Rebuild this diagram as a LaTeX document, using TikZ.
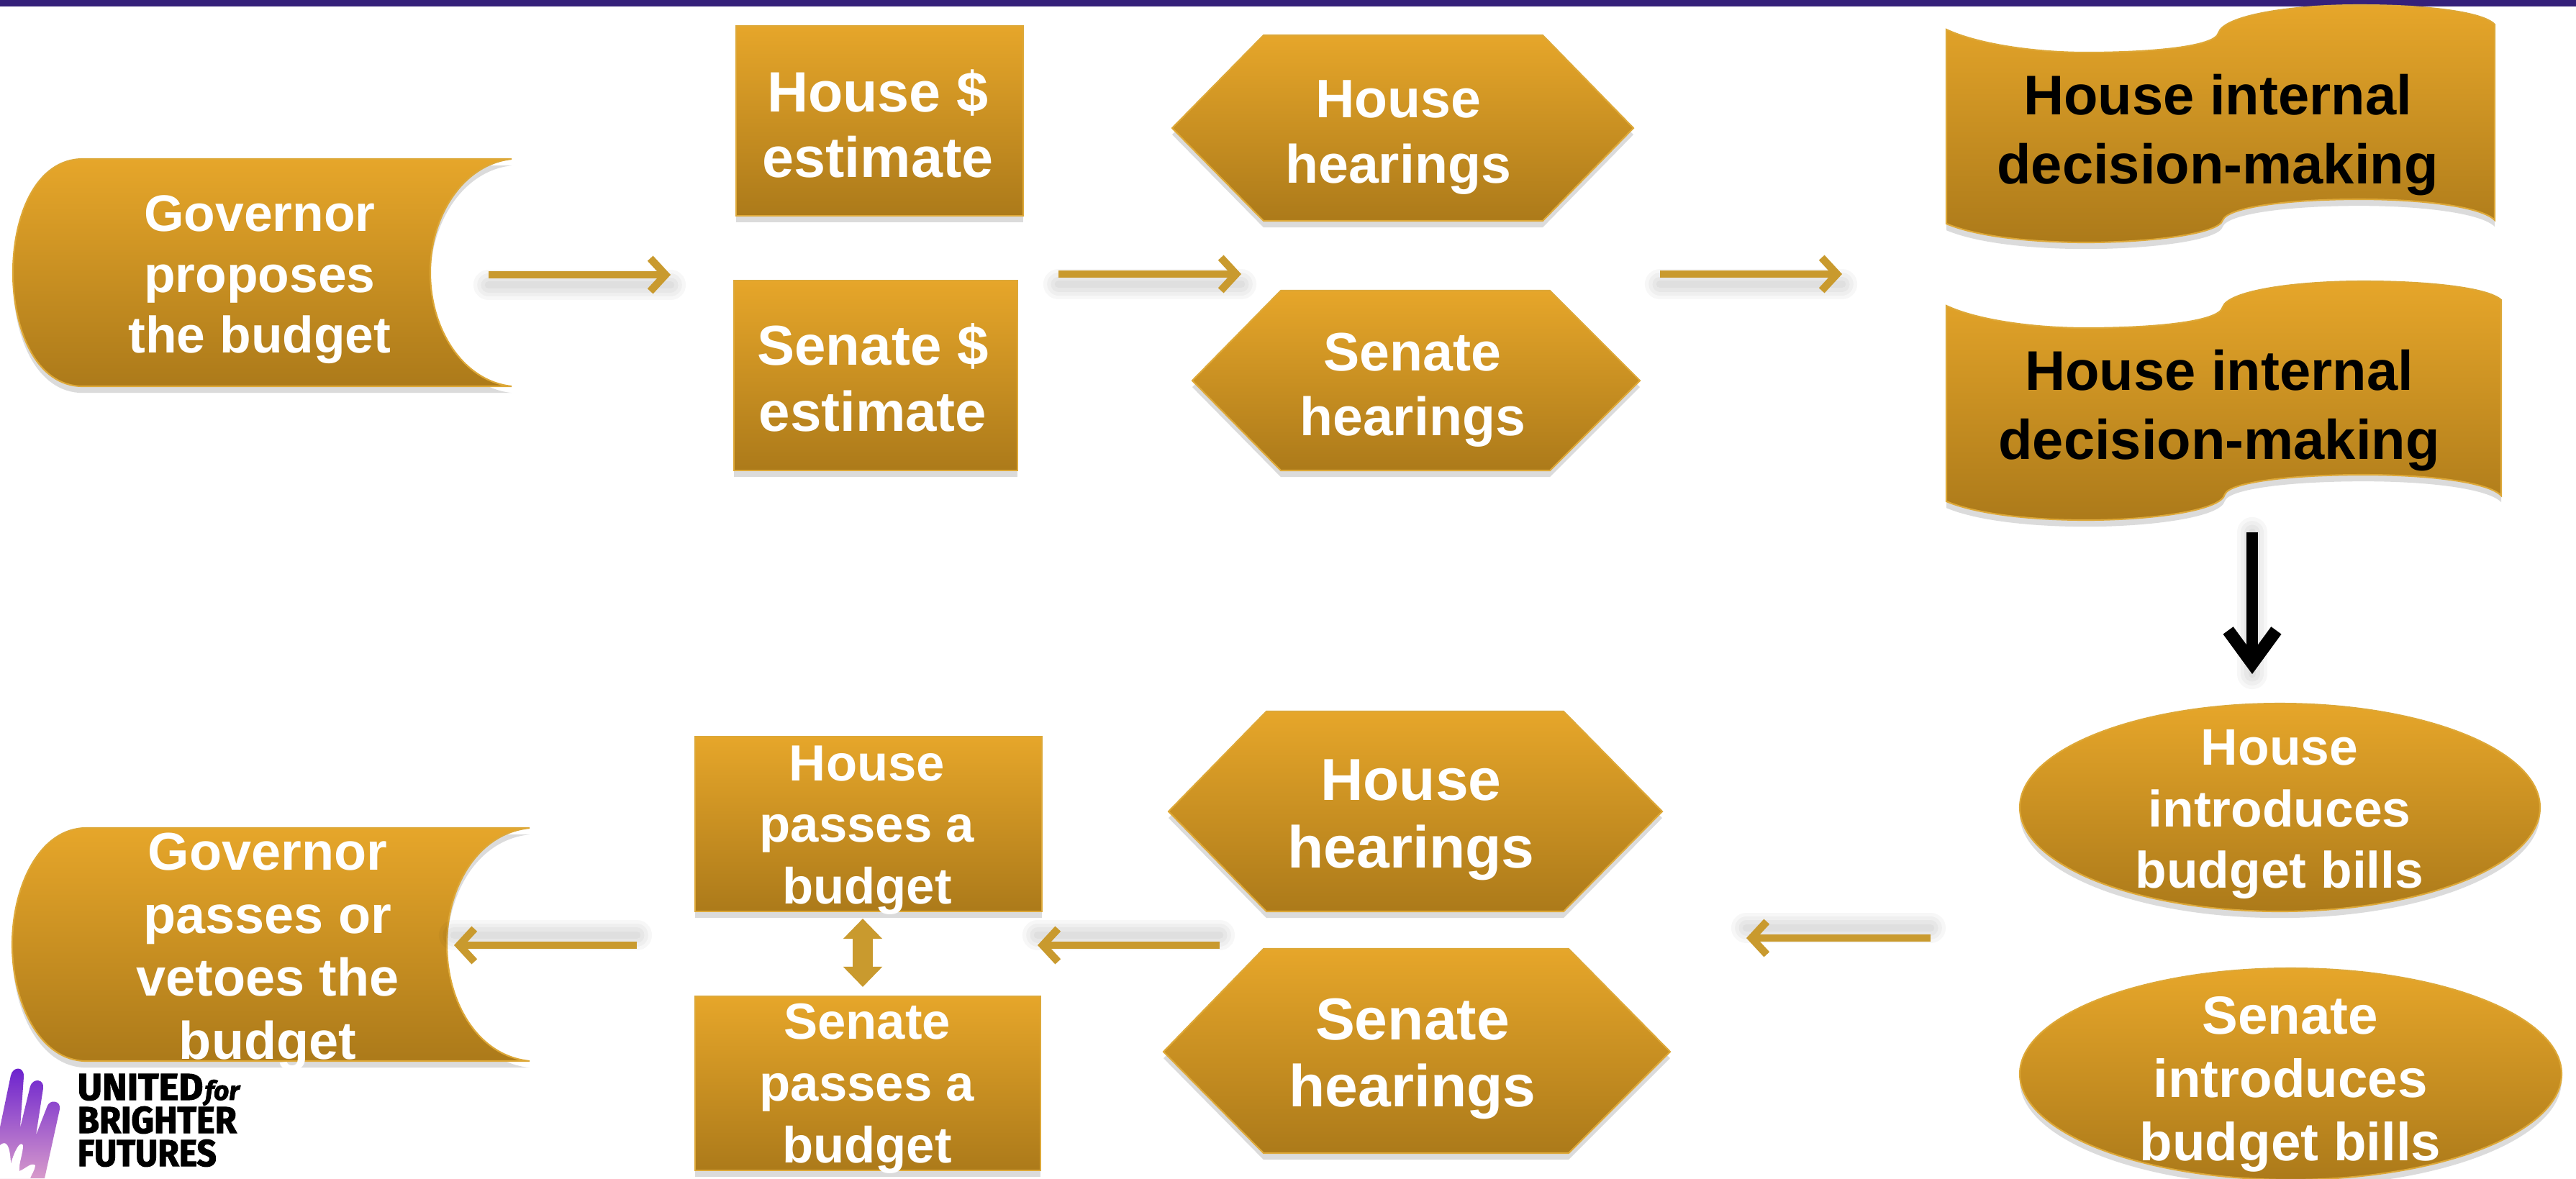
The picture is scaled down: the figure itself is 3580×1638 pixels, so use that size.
\documentclass[tikz,border=0pt]{standalone}
\usepackage{fontspec}
\setmainfont{Liberation Sans}
\newfontfamily\logofont[FakeBold=2.2]{Fira Sans}
\usetikzlibrary{shadows,arrows.meta}
\definecolor{goldtop}{HTML}{E6A62A}
\definecolor{goldbot}{HTML}{AC7A1A}
\definecolor{goldedge}{HTML}{DDA838}
\definecolor{goldline}{HTML}{C99A2E}
\definecolor{barpurple}{HTML}{35207A}
\definecolor{handtop}{HTML}{6A20CE}
\definecolor{handbot}{HTML}{D79ACB}
\tikzset{
  goldshape/.style={top color=goldtop,bottom color=goldbot,draw=goldedge,line width=0.6pt,
    drop shadow={shadow xshift=0pt,shadow yshift=-2.6pt,fill=black!40,opacity=.35}},
  lbl/.style={inner sep=0pt,align=center,text=white},
  goldarrow/.style={draw=goldline,line width=2.6pt,-{Straight Barb[length=6pt,width=13pt,line width=3pt]}},
  softline/.style={draw=black,opacity=.03,line cap=round},
  logotext/.style={inner sep=0pt,anchor=base west,text=black}
}
\newcommand{\lblnode}[5]{\node[lbl,font=\fontsize{#3}{#4}\selectfont\bfseries] (#1) at (#2) {#5};}
\newcommand{\softshadow}[3]{%
  \foreach \w in {3,6,9,12}{\draw[softline,line width=\w pt,transform canvas={yshift=#3}] (#1) -- (#2);}}
\begin{document}
\begin{tikzpicture}[x=0.01cm,y=-0.01cm]
\useasboundingbox (0,0) rectangle (3580,1638);
\clip (0,0) rectangle (3580,1638);
\fill[white] (0,0) rectangle (3580,1638);
\fill[barpurple] (0,0) rectangle (3580,9);

% Governor proposes
\path[goldshape] (711,221) -- (115,221) .. controls (50,221) and (18,300) .. (18,379)
  .. controls (18,458) and (50,537) .. (115,537) -- (711,537)
  .. controls (645,530) and (598,460) .. (598,379) .. controls (598,298) and (645,228) .. (711,221) -- cycle;
% estimates
\path[goldshape] (1023,36) rectangle (1422,300);
\path[goldshape] (1020,390) rectangle (1414,654);
% hearings top
\path[goldshape] (1756,49) -- (2144,49) -- (2270,178) -- (2144,307) -- (1756,307) -- (1629,178) -- cycle;
\path[goldshape] (1780,404) -- (2154,404) -- (2279,529) -- (2154,654) -- (1780,654) -- (1657,529) -- cycle;
% waves
\path[goldshape] (2705,41) .. controls (2750,62) and (2830,73) .. (2899,73)
  .. controls (2990,73) and (3078,65) .. (3083,46)
  .. controls (3090,22) and (3180,7) .. (3279,7)
  .. controls (3370,7) and (3450,16) .. (3467,34)
  -- (3467,306) .. controls (3450,288) and (3370,277) .. (3279,277)
  .. controls (3180,277) and (3096,288) .. (3089,306)
  .. controls (3084,325) and (2990,337) .. (2899,337)
  .. controls (2830,337) and (2750,330) .. (2705,311) -- cycle;
\path[goldshape] (2705,425) .. controls (2750,446) and (2830,456) .. (2899,456)
  .. controls (2990,456) and (3084,448) .. (3089,427)
  .. controls (3096,405) and (3185,391) .. (3285,391)
  .. controls (3375,391) and (3458,400) .. (3476,417)
  -- (3476,689) .. controls (3458,670) and (3375,660) .. (3285,660)
  .. controls (3185,660) and (3099,670) .. (3092,687)
  .. controls (3087,710) and (2990,723) .. (2899,723)
  .. controls (2830,723) and (2750,716) .. (2705,697) -- cycle;
% ellipses
\path[goldshape] (3168.5,1122.5) ellipse [x radius=361.5,y radius=144.5];
\path[goldshape] (3183.5,1493) ellipse [x radius=376.5,y radius=147];
% hearings bottom
\path[goldshape] (1760,989) -- (2173,989) -- (2310,1128) -- (2173,1267) -- (1760,1267) -- (1624,1128) -- cycle;
\path[goldshape] (1756,1319) -- (2180,1319) -- (2321,1462) -- (2180,1603) -- (1756,1603) -- (1617,1462) -- cycle;
% passes
\path[goldshape] (966,1024) rectangle (1448,1267);
\path[goldshape] (966,1385) rectangle (1446,1627);
% Governor passes
\path[goldshape] (736,1151) -- (120,1151) .. controls (55,1151) and (17,1232) .. (17,1313)
  .. controls (17,1394) and (55,1475) .. (120,1475) -- (736,1475)
  .. controls (665,1468) and (621,1395) .. (621,1313) .. controls (621,1231) and (665,1158) .. (736,1151) -- cycle;

% labels
\lblnode{govprop}{361,389}{20.3}{24}{Governor\\proposes\\the budget}
\lblnode{houseest}{1220,172}{22.5}{26}{House \$\\estimate}
\lblnode{senateest}{1213,525}{22.2}{26}{Senate \$\\estimate}
\lblnode{househear}{1943,191}{21.4}{26}{House\\hearings}
\lblnode{senatehear}{1963,542}{21.4}{25.5}{Senate\\hearings}
\node[lbl,text=black,font=\fontsize{22.1}{27.3}\selectfont\bfseries] (wave1) at (3082,188) {House internal\\decision-making};
\node[lbl,text=black,font=\fontsize{22.1}{27.3}\selectfont\bfseries] (wave2) at (3084,571) {House internal\\decision-making};
\lblnode{houseintro}{3168,1132}{20.3}{24.4}{House\\introduces\\budget bills}
\lblnode{senateintro}{3183,1507}{21.2}{25}{Senate\\introduces\\budget bills}
\lblnode{househear2}{1961,1140}{23.4}{26.7}{House\\hearings}
\lblnode{senatehear2}{1963,1472}{23.4}{26.7}{Senate\\hearings}
\lblnode{housepass}{1205,1154}{20.1}{24.4}{House\\passes a\\budget}
\lblnode{senatepass}{1205,1513}{20.1}{24.4}{Senate\\passes a\\budget}
\lblnode{govpass}{372,1323}{21}{25}{Governor\\passes or\\vetoes the\\budget}

% connector ends
\coordinate (a1s) at (679,382); \coordinate (a1e) at (932,382);
\coordinate (a2s) at (1471,381); \coordinate (a2e) at (1725,381);
\coordinate (a3s) at (2307,381); \coordinate (a3e) at (2560,381);
\coordinate (a4s) at (3130,740); \coordinate (a4e) at (3130,937);
\coordinate (a5s) at (2683,1304); \coordinate (a5e) at (2427,1304);
\coordinate (a6s) at (1695,1314); \coordinate (a6e) at (1442,1314);
\coordinate (a7s) at (885,1314); \coordinate (a7e) at (631,1314);
\coordinate (a8s) at (1199,1277); \coordinate (a8e) at (1199,1372);

\softshadow{a1s}{a1e}{-4pt}
\softshadow{a2s}{a2e}{-4pt}
\softshadow{a3s}{a3e}{-4pt}
\softshadow{a5s}{a5e}{4pt}
\softshadow{a6s}{a6e}{4pt}
\softshadow{a7s}{a7e}{4pt}
\softshadow{a4s}{a4e}{0pt}

\draw[goldarrow] (a1s) -- (a1e);
\draw[goldarrow] (a2s) -- (a2e);
\draw[goldarrow] (a3s) -- (a3e);
\draw[goldarrow] (a5s) -- (a5e);
\draw[goldarrow] (a6s) -- (a6e);
\draw[goldarrow] (a7s) -- (a7e);
\draw[draw=black,line width=4.5pt,-{Straight Barb[length=13pt,width=19pt,line width=5pt]}] (a4s) -- (a4e);
\draw[draw=goldline,line width=8pt,{Triangle[length=8pt,width=15pt]}-{Triangle[length=8pt,width=15pt]}] (a8s) -- (a8e);

% logo
\path[top color=handtop,bottom color=handbot]
  (0,1567) -- (15,1495) .. controls (18,1482) and (34,1482) .. (33,1497)
  -- (28,1568) -- (42,1510) .. controls (46,1498) and (62,1500) .. (60,1513)
  -- (50,1578) -- (66,1537) .. controls (70,1528) and (85,1530) .. (83,1542)
  -- (62,1638) -- (0,1638) -- cycle;
\fill[white] (0,1592) .. controls (8,1585) and (14,1590) .. (15,1618)
  .. controls (20,1600) and (28,1585) .. (32,1592)
  .. controls (32,1605) and (26,1615) .. (27,1628)
  .. controls (35,1625) and (44,1615) .. (49,1620)
  .. controls (48,1628) and (44,1632) .. (42,1638) -- (0,1638) -- cycle;
\node[logotext,font=\fontsize{14.8}{14.8}\selectfont\logofont\bfseries] (logo1) at (107,1529) {\scalebox{1.01}[1]{UNITED}};
\node[logotext,font=\fontsize{10.5}{10.5}\selectfont\logofont\bfseries\itshape] (logo1b) at (284,1529) {for};
\node[logotext,font=\fontsize{14.8}{14.8}\selectfont\logofont\bfseries] (logo2) at (107,1575) {\scalebox{.94}[1]{BRIGHTER}};
\node[logotext,font=\fontsize{14.8}{14.8}\selectfont\logofont\bfseries] (logo3) at (107,1621) {\scalebox{.92}[1]{FUTURES}};
\end{tikzpicture}
\end{document}
